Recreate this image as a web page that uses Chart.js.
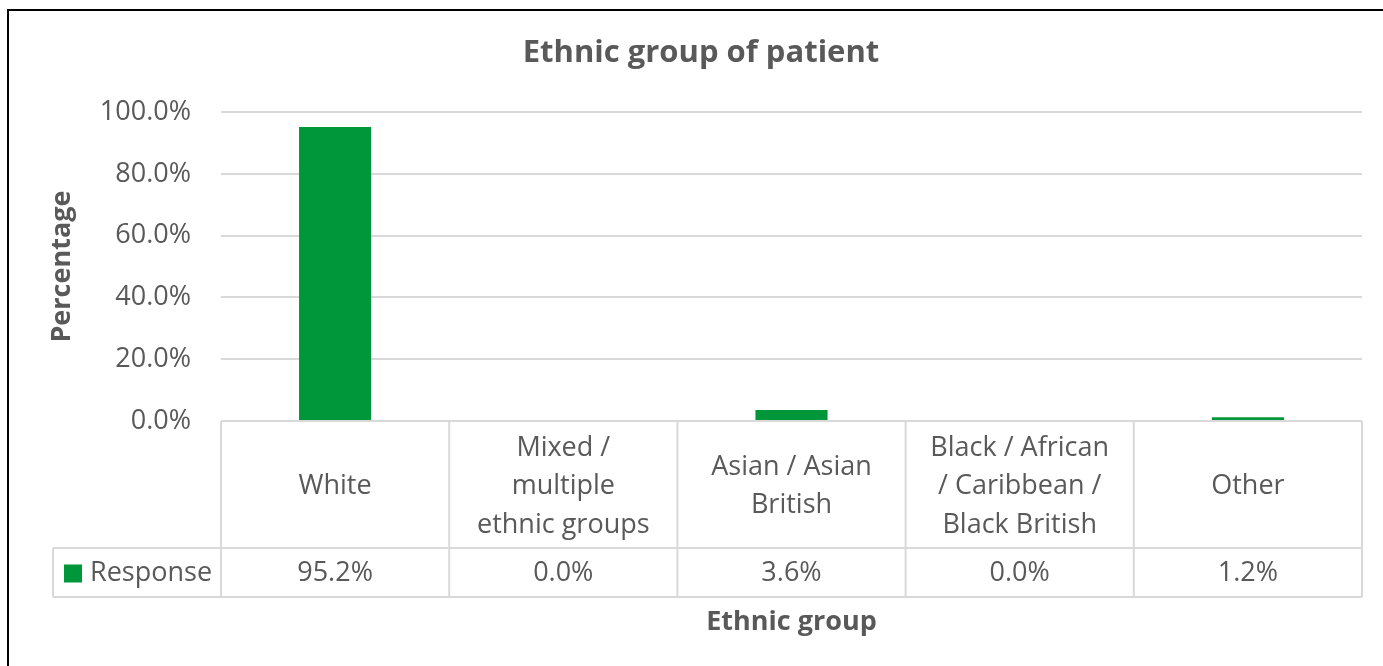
<!DOCTYPE html>
<html>
<head>
<meta charset="utf-8">
<title>Ethnic group of patient</title>
<script src="https://cdn.jsdelivr.net/npm/chart.js@4/dist/chart.umd.min.js"></script>
<style>
    html, body { margin: 0; padding: 0; background: #fff; overflow: hidden; }
    #wrap { position: relative; width: 1383px; height: 666px; }
    #chart { position: absolute; left: 0; top: 0; }
    #frame {
        position: absolute; left: 7px; top: 9px; width: 1500px; height: 800px;
        border-left: 2px solid #000; border-top: 2px solid #000; pointer-events: none;
    }
</style>
</head>
<body>
<div id="wrap">
    <canvas id="chart" width="1383" height="666"></canvas>
    <div id="frame"></div>
</div>
<script>
const categories = [
    ['White'],
    ['Mixed /', 'multiple', 'ethnic groups'],
    ['Asian / Asian', 'British'],
    ['Black / African', '/ Caribbean /', 'Black British'],
    ['Other']
];
const responseValues = [95.2, 0.0, 3.6, 0.0, 1.2];
const yTicks = [0, 20, 40, 60, 80, 100];

const TEXT = '#595959';
const LINE = '#d9d9d9';
const GREEN = '#00963A';
const FONT = "'Open Sans', sans-serif";

Chart.defaults.font.family = FONT;
Chart.defaults.color = TEXT;

const fmt = v => v.toFixed(1) + '%';

// data table under the x axis: label cells, value row and legend key
const dataTable = {
    id: 'dataTable',
    afterDraw(chart) {
        const { ctx, chartArea } = chart;
        const x = chart.scales.x;
        const n = categories.length;
        const half = (chartArea.right - chartArea.left) / n / 2;
        const top = chartArea.bottom;
        const mid = top + 127;
        const bottom = mid + 49;
        const keyLeft = 53;

        ctx.save();
        ctx.strokeStyle = LINE;
        ctx.lineWidth = 2;
        ctx.beginPath();
        ctx.moveTo(chartArea.left, top); ctx.lineTo(chartArea.right, top);
        ctx.moveTo(keyLeft, mid); ctx.lineTo(chartArea.right, mid);
        ctx.moveTo(keyLeft, bottom); ctx.lineTo(chartArea.right, bottom);
        ctx.moveTo(keyLeft, mid); ctx.lineTo(keyLeft, bottom);
        for (let i = 0; i <= n; i++) {
            const px = i < n ? x.getPixelForTick(i) - half : x.getPixelForTick(n - 1) + half;
            ctx.moveTo(px, top); ctx.lineTo(px, bottom);
        }
        ctx.stroke();

        ctx.fillStyle = TEXT;
        ctx.font = '27px ' + FONT;
        ctx.textAlign = 'center';
        ctx.textBaseline = 'middle';
        const lh = 38.5;
        const catMid = (top + mid) / 2 + 2;
        const valMid = (mid + bottom) / 2 + 1;
        categories.forEach((lines, i) => {
            const cx = x.getPixelForTick(i);
            const y0 = catMid - (lines.length - 1) * lh / 2;
            lines.forEach((t, j) => ctx.fillText(t, cx, y0 + j * lh));
            ctx.fillText(fmt(chart.data.datasets[0].data[i]), cx, valMid);
        });

        const ds = chart.data.datasets[0];
        ctx.fillStyle = ds.backgroundColor;
        ctx.fillRect(64, valMid - 9, 18, 18);
        ctx.fillStyle = TEXT;
        ctx.textAlign = 'left';
        ctx.fillText(ds.label, 90, valMid);
        ctx.restore();
    }
};

new Chart(document.getElementById('chart'), {
    type: 'bar',
    data: {
        labels: categories,
        datasets: [{
            label: 'Response',
            data: responseValues,
            backgroundColor: GREEN,
            categoryPercentage: 1,
            barPercentage: 0.316
        }]
    },
    options: {
        responsive: false,
        animation: false,
        devicePixelRatio: 1,
        layout: { padding: { top: 0, left: 40, right: 21, bottom: 20 } },
        plugins: {
            legend: { display: false },
            tooltip: { enabled: false },
            title: {
                display: true,
                text: 'Ethnic group of patient',
                color: TEXT,
                font: { size: 31, weight: 'bold' },
                padding: { top: 35, bottom: 40 }
            }
        },
        scales: {
            x: {
                grid: { display: false },
                border: { display: false },
                ticks: { display: false },
                title: {
                    display: true,
                    text: 'Ethnic group',
                    color: TEXT,
                    font: { size: 27, weight: 'bold' },
                    padding: { top: 0, bottom: 7 }
                },
                afterFit(scale) { scale.height = 225; }
            },
            y: {
                min: 0,
                max: 100,
                afterBuildTicks(scale) { scale.ticks = yTicks.map(v => ({ value: v })); },
                grid: { color: LINE, lineWidth: 2, drawTicks: false },
                border: { display: false },
                ticks: {
                    padding: 30,
                    color: TEXT,
                    font: { size: 27 },
                    callback: v => fmt(v)
                },
                title: {
                    display: true,
                    text: 'Percentage',
                    color: TEXT,
                    font: { size: 27, weight: 'bold' },
                    padding: { top: 6, bottom: 0 }
                },
                afterFit(scale) { scale.width = 181; }
            }
        }
    },
    plugins: [dataTable]
});
</script>
</body>
</html>
